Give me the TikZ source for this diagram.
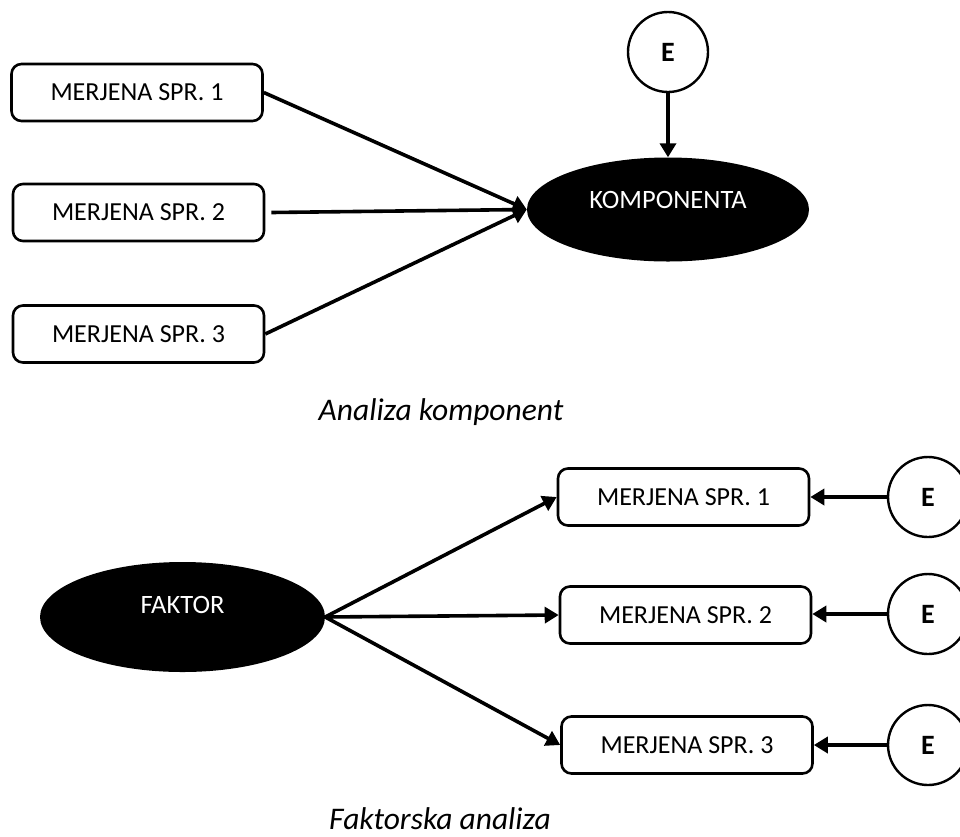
\documentclass[tikz,border=0pt]{standalone}
\usepackage{fontspec}
\setmainfont{Carlito}
\usetikzlibrary{arrows.meta,shapes.geometric}

\tikzset{
  varbox/.style={draw, line width=2.6pt, rounded corners=10pt,
    minimum width=251pt, minimum height=57pt, inner sep=0pt,
    font=\fontsize{26}{30}\selectfont},
  errnode/.style={draw, circle, line width=2.4pt, minimum size=80pt,
    inner sep=0pt, font=\fontsize{28}{32}\selectfont\bfseries},
  latent/.style={ellipse, fill=black, inner sep=0pt},
  latlabel/.style={text=white, font=\fontsize{26.5}{30}\selectfont},
  caption/.style={font=\fontsize{31.5}{36}\selectfont\itshape, anchor=base},
  link/.style={line width=3.6pt, -{Triangle[length=14pt,width=16pt]}}
}

\begin{document}
\begin{tikzpicture}[x=1pt,y=-1pt]
  \useasboundingbox (0,0) rectangle (960,836);

  % ---- principal components ----
  \node[varbox] (a1) at (137,92.5) {MERJENA SPR. 1};
  \node[varbox] (a2) at (138.5,212.5) {MERJENA SPR. 2};
  \node[varbox] (a3) at (138.5,334) {MERJENA SPR. 3};
  \node[latent, minimum width=282pt, minimum height=104pt] (K) at (668,209.5) {};
  \node[latlabel] (Kt) at (668,200) {KOMPONENTA};
  \node[errnode] (eK) at (668,52) {E};

  \draw[link] (a1.east) -- (K.west);
  \draw[link] ([xshift=6pt]a2.east) -- (K.west);
  \draw[link] (a3.east) -- (K.west);
  \draw[link] (eK.south) -- (K.north);

  \node[caption] (capA) at (441,420) {Analiza komponent};

  % ---- factor analysis ----
  \node[latent, minimum width=285pt, minimum height=110pt] (F) at (182.5,617) {};
  \node[latlabel] (Ft) at (182.5,605) {FAKTOR};

  \node[varbox] (b1) at (683.5,497) {MERJENA SPR. 1};
  \node[varbox] (b2) at (685.5,615) {MERJENA SPR. 2};
  \node[varbox] (b3) at (687,745) {MERJENA SPR. 3};

  \node[errnode] (e1) at (928,497) {E};
  \node[errnode] (e2) at (928,614) {E};
  \node[errnode] (e3) at (928,745) {E};

  \draw[link] (F.east) -- (b1.west);
  \draw[link] (F.east) -- (b2.west);
  \draw[link] (F.east) -- (b3.west);

  \draw[link] (e1.west) -- (b1.east);
  \draw[link] (e2.west) -- (b2.east |- e2.west);
  \draw[link] (e3.west) -- (b3.east);

  \node[caption] (capF) at (440,829) {Faktorska analiza};
\end{tikzpicture}
\end{document}
